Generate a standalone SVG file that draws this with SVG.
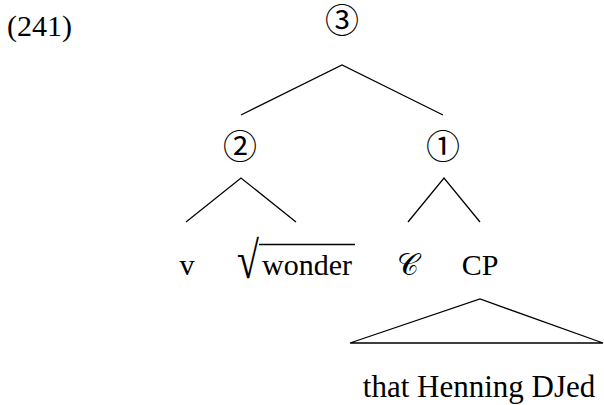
<svg xmlns="http://www.w3.org/2000/svg" width="604" height="405" viewBox="0 0 604 405">
  <style>
    .t { font-family: "Liberation Serif", "DejaVu Serif", serif; font-size: 30px; fill: #000; }
    .c { font-family: "DejaVu Serif", "Noto Sans CJK JP", serif; font-size: 34px; fill: #000; text-anchor: middle; }
    .m { text-anchor: middle; }
    .e { stroke: #000; stroke-width: 1.3; fill: none; }
  </style>
  <rect width="604" height="405" fill="#fff"/>
  <text class="t" x="7" y="36">(241)</text>
  <g id="n3"><text class="c" x="342" y="33">③</text></g>
  <g id="n2"><text class="c" x="240" y="159">②</text></g>
  <g id="n1"><text class="c" x="443" y="159">①</text></g>
  <g id="v"><text class="t m" x="187" y="275">v</text></g>
  <g id="wonder">
    <text class="t" transform="translate(237,278) scale(1,1.3)" x="0" y="0" style="font-size:40px">√</text>
    <line x1="259" y1="244.5" x2="355" y2="244.5" stroke="#000" stroke-width="1.6"/>
    <text class="t" x="262" y="275">wonder</text>
  </g>
  <g id="C"><text class="t m" x="408" y="275">𝒞</text></g>
  <g id="CP"><text class="t m" x="480" y="275">CP</text></g>
  <g id="clause"><text class="t m" x="479" y="397" style="font-size:31px">that Henning DJed</text></g>
  <g id="connectors" class="e">
    <polyline points="241,115 342,65 443,115"/>
    <polyline points="186,222 241,178 296,222"/>
    <polyline points="408,222 444,178 480,222"/>
    <polygon points="350,343 480,299 603,343"/>
  </g>
</svg>
